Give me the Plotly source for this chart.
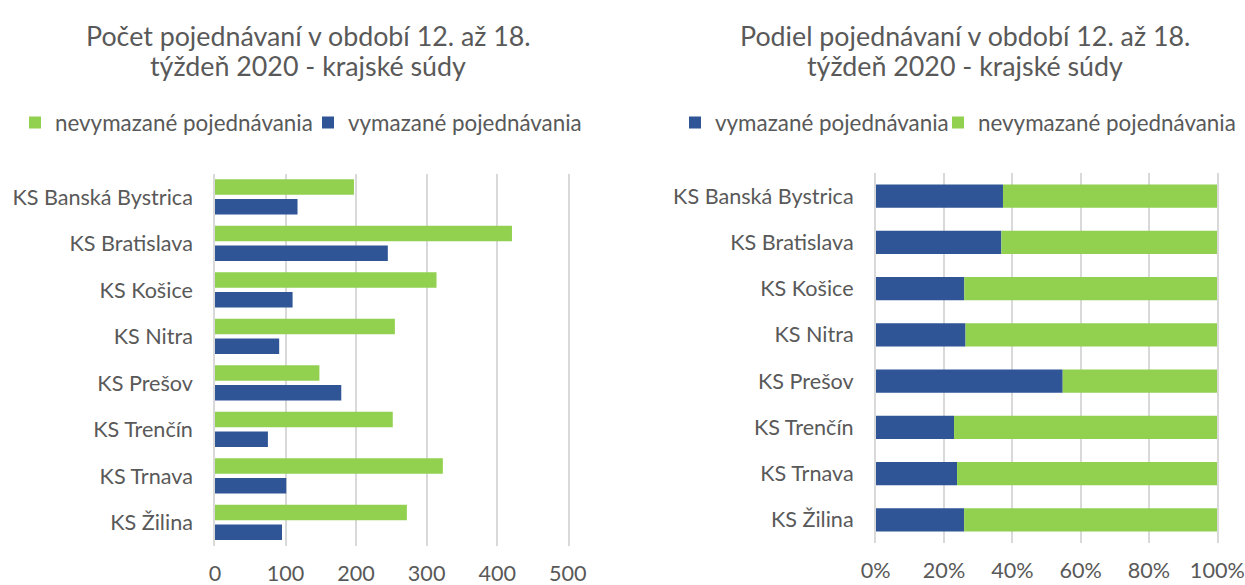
import plotly.graph_objects as go

categories = ["KS Banská Bystrica", "KS Bratislava", "KS Košice", "KS Nitra",
              "KS Prešov", "KS Trenčín", "KS Trnava", "KS Žilina"]
nevymazane = [197, 421, 314, 255, 148, 252, 323, 272]
vymazane = [117, 245, 110, 91, 179, 75, 101, 95]
x_ticks_left = [0, 100, 200, 300, 400, 500]
x_ticks_right = [0, 0.2, 0.4, 0.6, 0.8, 1.0]
title_left = ["Počet pojednávaní v období 12. až 18.", "týždeň 2020 - krajské súdy"]
title_right = ["Podiel pojednávaní v období 12. až 18.", "týždeň 2020 - krajské súdy"]

totals = [a + b for a, b in zip(nevymazane, vymazane)]
share_vym = [b / t for b, t in zip(vymazane, totals)]
share_nevym = [a / t for a, t in zip(nevymazane, totals)]

GREEN = "#92D050"
BLUE = "#2F5597"
TXT = "#595959"
GRID = "#D9D9D9"
FONT = "Lato"
W, H = 1245, 585


def fx(px):
    return px / W


def fy(py):
    return 1 - py / H


fig = go.Figure()

# Left chart: grouped counts
fig.add_trace(go.Bar(y=categories, x=nevymazane, orientation="h", name="nevymazané pojednávania",
                     marker=dict(color=GREEN, line=dict(width=0)), width=0.33, offset=-0.385,
                     xaxis="x", yaxis="y", legend="legend", showlegend=True))
fig.add_trace(go.Bar(y=categories, x=vymazane, orientation="h", name="vymazané pojednávania",
                     marker=dict(color=BLUE, line=dict(width=0)), width=0.33, offset=0.04,
                     xaxis="x", yaxis="y", legend="legend2", showlegend=True))

# Right chart: 100% stacked shares
fig.add_trace(go.Bar(y=categories, x=share_vym, orientation="h", name="vymazané pojednávania",
                     marker=dict(color=BLUE, line=dict(width=0)), width=0.5, offset=-0.25,
                     xaxis="x2", yaxis="y2", legend="legend3", showlegend=True))
fig.add_trace(go.Bar(y=categories, x=share_nevym, base=share_vym, orientation="h",
                     name="nevymazané pojednávania",
                     marker=dict(color=GREEN, line=dict(width=0)), width=0.5, offset=-0.25,
                     xaxis="x2", yaxis="y2", legend="legend4", showlegend=True))

ytickfont = dict(family=FONT, size=21.6, color=TXT)
xtickfont = dict(family=FONT, size=21.6, color=TXT)
legfont = dict(family=FONT, size=22.4, color=TXT)
titlefont = dict(family=FONT, size=26.8, color=TXT)


def leg(xpx):
    return dict(orientation="h", x=fx(xpx), y=fy(123), xanchor="left", yanchor="middle",
                font=legfont, itemwidth=30, bgcolor="rgba(0,0,0,0)")


annotations = []
for cx, lines in ((308, title_left), (965, title_right)):
    for cy, line in zip((36, 66), lines):
        annotations.append(dict(text=line, x=fx(cx), y=fy(cy), xref="paper", yref="paper",
                                showarrow=False, xanchor="center", yanchor="middle",
                                font=titlefont))

fig.update_layout(
    width=W, height=H,
    margin=dict(l=0, r=0, t=0, b=0),
    paper_bgcolor="white", plot_bgcolor="white",
    barmode="overlay",
    showlegend=True,
    font=dict(family=FONT, color=TXT),
    xaxis=dict(domain=[fx(215), fx(567.7)], range=[0, 500], tickvals=x_ticks_left,
               showgrid=True, gridcolor=GRID, gridwidth=1.5, zeroline=False,
               showline=False, tickfont=xtickfont, ticks="", ticklabelstandoff=12,
               automargin=False, anchor="y"),
    yaxis=dict(domain=[fy(546), fy(174)], autorange="reversed", type="category",
               showgrid=False, zeroline=False, showline=True, mirror=True,
               linecolor=GRID, linewidth=1.5, tickfont=ytickfont,
               ticks="", ticklabelstandoff=16, automargin=False, anchor="x"),
    xaxis2=dict(domain=[fx(875.7), fx(1217.3)], range=[0, 1], tickvals=x_ticks_right,
                tickformat=".0%", showgrid=True, gridcolor=GRID, gridwidth=1.5, zeroline=False,
                showline=False, tickfont=xtickfont, ticks="", ticklabelstandoff=12,
                automargin=False, anchor="y2"),
    yaxis2=dict(domain=[fy(543), fy(173)], autorange="reversed", type="category",
                showgrid=False, zeroline=False, showline=True, mirror=True,
                linecolor=GRID, linewidth=1.5, tickfont=ytickfont,
                ticks="", ticklabelstandoff=16, automargin=False, anchor="x2"),
    legend=leg(15), legend2=leg(308), legend3=leg(675), legend4=leg(938),
    annotations=annotations,
)

fig.write_html(
    "out.html",
    config={"displayModeBar": False},
    post_script="document.body.style.margin='0';document.body.style.overflow='hidden';",
)
